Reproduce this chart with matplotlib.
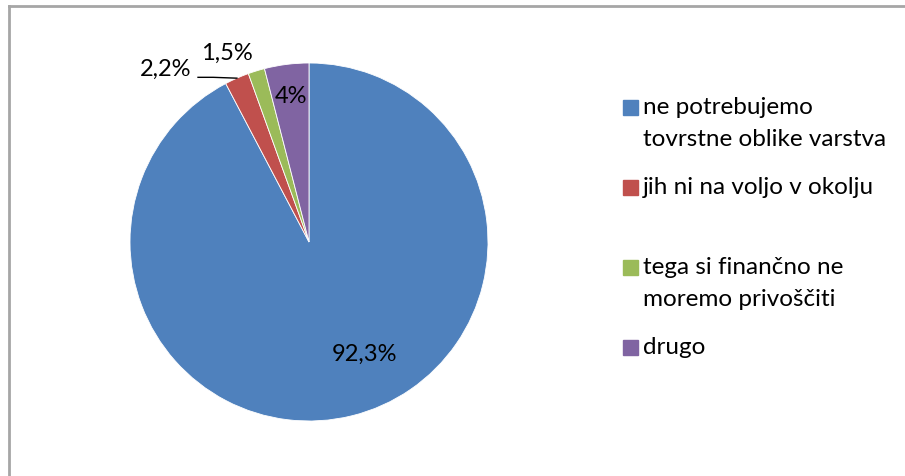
import numpy as np
import matplotlib.pyplot as plt
from matplotlib.lines import Line2D
from matplotlib.patches import Rectangle

plt.rcParams['font.family'] = ['Lato', 'DejaVu Sans']

categories = ["ne potrebujemo\ntovrstne oblike varstva",
              "jih ni na voljo v okolju",
              "tega si finančno ne\nmoremo privoščiti",
              "drugo"]
values = [92.3, 2.2, 1.5, 4.0]
value_labels = ["92,3%", "2,2%", "1,5%", "4%"]
colors = ["#4F81BD", "#C0504D", "#9BBB59", "#8064A2"]

# where Excel put the data labels (in pie radius units)
label_pos = [(0.31, -0.62), (-0.80, 0.97), (-0.46, 1.06), (-0.10, 0.82)]

W, H = 905, 477
fig = plt.figure(figsize=(W / 100, H / 100), dpi=100)

# chart border (top and left only, rest is cropped)
def px(x, y):
    return x / W, 1 - y / H

gray = "#A6A6A6"
fig.add_artist(Line2D([px(9, 0)[0], 1], [px(0, 7)[1]] * 2, color=gray, lw=2))
fig.add_artist(Line2D([px(9, 0)[0]] * 2, [0, px(0, 7)[1]], color=gray, lw=2))

cx, cy, r = 309, 243, 179
ax = fig.add_axes([(cx - r) / W, (H - cy - r) / H, 2 * r / W, 2 * r / H])
wedges, _ = ax.pie(values, colors=colors, startangle=90, counterclock=False,
                   radius=1, wedgeprops=dict(edgecolor="white", linewidth=0.6))
ax.set_xlim(-1, 1)
ax.set_ylim(-1, 1)
ax.set_aspect("equal")
ax.axis("off")

for i, (lbl, (x, y)) in enumerate(zip(value_labels, label_pos)):
    ax.text(x, y, lbl, ha="center", va="center", fontsize=17, color="black",
            clip_on=False)

# leader line for the 2,2% label
w = wedges[1]
mid = np.deg2rad((w.theta1 + w.theta2) / 2)
ex, ey = np.cos(mid), np.sin(mid)
ax.add_line(Line2D([-0.62, -0.535, ex], [0.92, 0.92, ey], color="black",
                   lw=1, clip_on=False))

# legend
for i, (cat, col) in enumerate(zip(categories, colors)):
    yc = 108 + 80 * i
    x0, y0 = px(623, yc + 7.5)
    fig.add_artist(Rectangle((x0, y0), 15 / W, 15 / H, color=col,
                             transform=fig.transFigure))
    for j, line in enumerate(cat.split("\n")):
        tx, ty = px(643, yc + 32 * j)
        fig.text(tx, ty, line, ha="left", va="center", fontsize=17.5,
                 color="black")

fig.savefig("out.png", dpi=100)
